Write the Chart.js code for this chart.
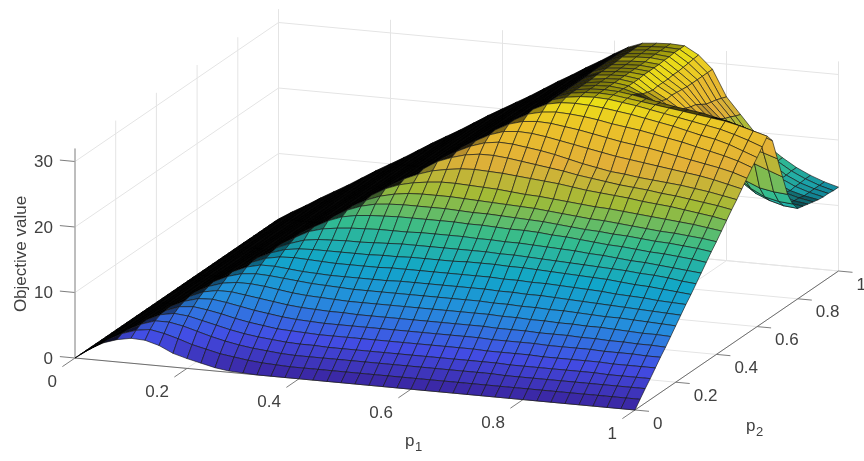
<!DOCTYPE html>
<html>
<head>
<meta charset="utf-8">
<title>Objective value surface</title>
<script src="https://cdn.jsdelivr.net/npm/chart.js@4"></script>
<style>
  html, body { margin: 0; padding: 0; background: #fff; }
  canvas { display: block; }
</style>
</head>
<body>
<canvas id="surfaceChart" width="864" height="461"></canvas>
<script>
// ========================== Data ==========================

const p1Ticks = [0, 0.2, 0.4, 0.6, 0.8, 1];
const p2Ticks = [0, 0.2, 0.4, 0.6, 0.8, 1];
const zTicks = [0, 10, 20, 30];
const zTop = 32;

// mesh positions, the same for both p axes
const gridP = [0, 0.025, 0.05, 0.075, 0.1, 0.125, 0.15, 0.175, 0.2, 0.225,
  0.25, 0.275, 0.3, 0.325, 0.35, 0.375, 0.4, 0.425, 0.45, 0.475,
  0.5, 0.525, 0.55, 0.575, 0.6, 0.625, 0.65, 0.675, 0.7, 0.725,
  0.75, 0.775, 0.8, 0.825, 0.85, 0.875, 0.9, 0.925, 0.95, 0.975, 1];

// the steep left flank is the same in most rows
const riseA = [0, 1.3, 2.5, 3.8, 5, 6.2, 7.5, 8.8, 10, 11.2];
const riseB = [12.5, 13.8, 15, 16.2, 17.5, 18.8, 20, 21.2, 22.4, 23.7];
const riseC = [25, 26.2, 27.5, 28.7, 30];

// objective value, one row per p2 in gridP, one column per p1 in gridP
const objectiveRows = [
  [0, 1.5, 2.7, 3.4, 3.8, 3.7, 3.1, 2.1, 1.5, 1, 0.5, 0.2, 0.1, 0, 0, 0, 0, 0, 0, 0, 0, 0, 0, 0, 0, 0, 0, 0, 0, 0, 0, 0, 0, 0, 0, 0, 0, 0, 0, 0, 0],
  [0, 1.4, 2.7, 3.8, 4.5, 4.8, 4.4, 3.8, 3.1, 2.6, 2.1, 1.8, 1.5, 1.3, 1.2, 1.1, 1.1, 1.1, 1.1, 1.1, 1.1, 1.1, 1.1, 1.1, 1.1, 1.1, 1.1, 1.1, 1.1, 1.1, 1.1, 1.1, 1.1, 1.1, 1.1, 1.1, 1.1, 1.1, 1.1, 1.1, 1.1],
  [0, 1.3, 2.6, 3.8, 4.9, 5.6, 5.6, 5.2, 4.6, 4, 3.5, 3.1, 2.8, 2.6, 2.4, 2.3, 2.3, 2.3, 2.3, 2.3, 2.3, 2.3, 2.3, 2.3, 2.3, 2.3, 2.3, 2.3, 2.3, 2.3, 2.2, 2.2, 2.2, 2.2, 2.2, 2.2, 2.2, 2.2, 2.2, 2.2, 2.2],
  [0, 1.3, 2.5, 3.8, 5, 6, 6.4, 6.2, 5.7, 5.2, 4.7, 4.3, 4, 3.8, 3.6, 3.5, 3.5, 3.4, 3.4, 3.4, 3.4, 3.4, 3.4, 3.4, 3.4, 3.4, 3.4, 3.4, 3.4, 3.4, 3.3, 3.3, 3.3, 3.3, 3.3, 3.3, 3.3, 3.2, 3.2, 3.2, 3.2],
  [0, 1.3, 2.5, 3.8, 5, 6.1, 6.9, 7.1, 6.8, 6.4, 5.9, 5.5, 5.2, 4.9, 4.8, 4.7, 4.6, 4.6, 4.6, 4.6, 4.6, 4.6, 4.6, 4.6, 4.6, 4.6, 4.6, 4.6, 4.5, 4.5, 4.5, 4.5, 4.4, 4.4, 4.4, 4.4, 4.4, 4.3, 4.3, 4.3, 4.3],
  [0, 1.3, 2.5, 3.8, 5, 6.2, 7.2, 7.8, 7.9, 7.6, 7.2, 6.8, 6.5, 6.2, 6, 5.9, 5.8, 5.8, 5.8, 5.8, 5.8, 5.8, 5.8, 5.8, 5.8, 5.8, 5.8, 5.8, 5.7, 5.7, 5.7, 5.7, 5.6, 5.6, 5.6, 5.6, 5.5, 5.5, 5.5, 5.4, 5.4],
  [0, 1.3, 2.5, 3.8, 5, 6.2, 7.4, 8.3, 8.7, 8.7, 8.4, 8.1, 7.8, 7.5, 7.3, 7.2, 7.1, 7.1, 7, 7, 7, 7, 7, 7, 7, 7, 7, 7, 6.9, 6.9, 6.9, 6.8, 6.8, 6.8, 6.7, 6.7, 6.6, 6.6, 6.5, 6.5, 6.4],
  [0, 1.3, 2.5, 3.8, 5, 6.2, 7.5, 8.6, 9.3, 9.6, 9.6, 9.4, 9.1, 8.8, 8.6, 8.5, 8.4, 8.3, 8.3, 8.3, 8.3, 8.3, 8.3, 8.3, 8.3, 8.3, 8.3, 8.3, 8.2, 8.2, 8.1, 8.1, 8, 8, 7.9, 7.9, 7.8, 7.7, 7.6, 7.6, 7.5],
  [0, 1.3, 2.5, 3.8, 5, 6.2, 7.5, 8.8, 9.8, 10.4, 10.6, 10.5, 10.3, 10.1, 9.9, 9.8, 9.7, 9.6, 9.6, 9.6, 9.6, 9.6, 9.6, 9.6, 9.6, 9.6, 9.6, 9.5, 9.5, 9.4, 9.4, 9.3, 9.3, 9.2, 9.1, 9, 9, 8.9, 8.8, 8.7, 8.6],
  [0, 1.3, 2.5, 3.8, 5, 6.2, 7.5, 8.8, 10, 10.9, 11.4, 11.4, 11.2, 11, 10.9, 10.8, 10.8, 10.8, 10.8, 10.8, 10.9, 10.9, 10.9, 10.9, 10.9, 10.9, 10.9, 10.8, 10.8, 10.7, 10.7, 10.6, 10.5, 10.4, 10.3, 10.2, 10.1, 10, 9.9, 9.8, 9.7],
  [0, 1.3, 2.5, 3.8, 5, 6.2, 7.5, 8.8, 10, 11.1, 11.9, 12.3, 12.4, 12.3, 12.2, 12.1, 12.1, 12.1, 12.1, 12.2, 12.2, 12.2, 12.2, 12.2, 12.2, 12.2, 12.2, 12.1, 12.1, 12, 12, 11.9, 11.8, 11.7, 11.6, 11.4, 11.3, 11.2, 11, 10.9, 10.8],
  [...riseA, 12.2, 12.9, 13.2, 13.3, 13.3, 13.3, 13.3, 13.3, 13.4, 13.4, 13.5, 13.5, 13.5, 13.5, 13.6, 13.6, 13.6, 13.5, 13.5, 13.4, 13.3, 13.2, 13.1, 13, 12.9, 12.7, 12.5, 12.4, 12.2, 12, 11.8],
  [...riseA, 12.4, 13.3, 14, 14.3, 14.4, 14.5, 14.5, 14.6, 14.7, 14.8, 14.8, 14.8, 14.8, 14.8, 14.8, 14.8, 14.7, 14.7, 14.6, 14.5, 14.4, 14.3, 14.2, 14.1, 14, 13.9, 13.7, 13.6, 13.4, 13.1, 12.9],
  [...riseA, 12.5, 13.7, 14.8, 15.4, 15.7, 15.9, 16, 16.1, 16.1, 16.1, 16.2, 16.2, 16.2, 16.2, 16.1, 16.1, 16, 16, 15.9, 15.8, 15.7, 15.6, 15.4, 15.3, 15.1, 14.9, 14.8, 14.6, 14.4, 14.2, 14],
  [...riseA, 12.5, 13.8, 15, 16.1, 16.9, 17.3, 17.5, 17.6, 17.7, 17.7, 17.7, 17.7, 17.7, 17.6, 17.6, 17.5, 17.4, 17.4, 17.3, 17.1, 17, 16.8, 16.6, 16.4, 16.3, 16.1, 15.9, 15.8, 15.6, 15.4, 15.1],
  [...riseA, 12.5, 13.8, 15, 16.2, 17.4, 18.2, 18.7, 18.9, 19, 19, 19, 19, 18.9, 18.8, 18.8, 18.7, 18.6, 18.5, 18.4, 18.2, 18, 17.8, 17.7, 17.5, 17.4, 17.2, 17, 16.9, 16.7, 16.5, 16.2],
  [...riseA, 12.5, 13.8, 15, 16.2, 17.5, 18.6, 19.4, 19.9, 20.2, 20.3, 20.3, 20.3, 20.2, 20.1, 20, 19.9, 19.8, 19.7, 19.5, 19.3, 19.1, 18.9, 18.8, 18.6, 18.4, 18.2, 18, 17.9, 17.7, 17.5, 17.2],
  [...riseA, 12.5, 13.8, 15, 16.2, 17.5, 18.8, 20, 20.8, 21.3, 21.6, 21.8, 21.8, 21.7, 21.6, 21.5, 21.3, 21.1, 21, 20.8, 20.6, 20.4, 20.2, 20.1, 19.9, 19.7, 19.5, 19.3, 19.1, 18.9, 18.6, 18.3],
  [...riseA, 12.5, 13.8, 15, 16.2, 17.5, 18.8, 20, 21.2, 22.1, 22.8, 23.2, 23.5, 23.6, 23.5, 23.4, 23.2, 23, 22.8, 22.6, 22.3, 22, 21.8, 21.6, 21.4, 21.1, 20.9, 20.7, 20.4, 20.1, 19.8, 19.4],
  [...riseA, ...riseB, 24.5, 25.1, 25.4, 25.4, 25.2, 24.9, 24.6, 24.3, 24, 23.6, 23.3, 23, 22.7, 22.5, 22.3, 22, 21.8, 21.5, 21.2, 20.9, 20.5],
  [...riseA, ...riseB, 24.9, 25.9, 26.6, 26.9, 26.8, 26.5, 26.2, 25.8, 25.3, 24.8, 24.4, 24, 23.8, 23.5, 23.3, 23.1, 22.9, 22.6, 22.3, 21.9, 21.5],
  [...riseA, ...riseB, 25, 26.2, 27.3, 28, 28.2, 28.1, 27.8, 27.4, 27, 26.6, 26.2, 25.8, 25.5, 25.2, 24.9, 24.6, 24.3, 24, 23.6, 23.1, 22.6],
  [...riseA, ...riseB, 25, 26.2, 27.5, 28.6, 29.2, 29.4, 29.3, 29, 28.7, 28.3, 27.9, 27.5, 27.2, 26.9, 26.5, 26.1, 25.7, 25.3, 24.9, 24.4, 23.7],
  [...riseA, ...riseB, 25, 26.2, 27.5, 28.7, 29.8, 30.3, 30.5, 30.4, 30.2, 29.9, 29.5, 29.2, 28.9, 28.5, 28.1, 27.7, 27.2, 26.7, 26.2, 25.6, 24.8],
  [...riseA, ...riseB, ...riseC, 31, 31.4, 31.5, 31.4, 31.2, 30.9, 30.6, 30.2, 29.8, 29.4, 28.9, 28.4, 28, 27.4, 26.6, 25.8],
  [...riseA, ...riseB, ...riseC, 31.1, 31.7, 32, 32.1, 32, 31.7, 31.4, 31, 30.6, 30.2, 29.8, 29.4, 29, 28.4, 27.7, 26.9],
  [...riseA, ...riseB, ...riseC, 31.1, 31.8, 32.1, 32.2, 32.1, 31.8, 31.5, 31.2, 30.9, 30.6, 30.3, 30, 29.7, 29.2, 28.6, 28],
  [...riseA, ...riseB, ...riseC, 31.1, 31.8, 32.1, 32.2, 32.1, 31.8, 31.4, 31, 30.6, 30.3, 30, 29.5, 29, 28.4, 27.6, 26.8],
  [...riseA, ...riseB, ...riseC, 31.1, 31.8, 32.1, 32.2, 32, 31.4, 30.5, 29.5, 28.5, 27.5, 26.7, 26, 25.4, 24.8, 24.2, 23.5],
  [...riseA, ...riseB, ...riseC, 31.1, 31.8, 32.1, 32.2, 31.9, 30.9, 29.8, 28.3, 26.8, 25.5, 24.4, 23.4, 22.6, 21.8, 21, 20.2],
  [...riseA, ...riseB, ...riseC, 31.1, 31.8, 32.1, 32.2, 31.9, 30.6, 29.5, 28, 26, 24, 22, 20, 18.5, 17.6, 17.2, 17],
  [...riseA, ...riseB, ...riseC, 31.1, 31.9, 32.1, 32.2, 31.9, 30.4, 29.2, 27.8, 25.8, 23.5, 20.5, 18.5, 16.8, 15.7, 15.2, 15],
  [...riseA, ...riseB, ...riseC, 31.1, 31.9, 32.1, 32.2, 32, 30.5, 29.3, 27.5, 26, 23.5, 20, 17, 15.5, 14.6, 14, 13.8],
  [...riseA, ...riseB, ...riseC, 31.2, 31.9, 32.1, 32.2, 32, 30.5, 29.2, 27.2, 25.4, 23, 19.8, 17, 15.4, 14.5, 13.9, 13.6],
  [...riseA, ...riseB, ...riseC, 31.2, 31.9, 32.1, 32.2, 32, 30.5, 29.1, 27, 25, 22.5, 19.5, 16.9, 15.3, 14.4, 13.7, 13.4],
  [...riseA, ...riseB, ...riseC, 31.2, 31.9, 32.1, 32.2, 32, 30.6, 29, 26.5, 24.5, 21.8, 19, 16.7, 15.2, 14.2, 13.6, 13.2],
  [...riseA, ...riseB, ...riseC, 31.2, 32, 32.2, 32.3, 32.1, 30.6, 29, 26, 24, 21, 18.5, 16.5, 15, 14, 13.4, 13],
  [...riseA, ...riseB, ...riseC, 31.2, 32, 32.2, 32.3, 32.1, 30.7, 29, 25.8, 23.5, 20.8, 18.4, 16.5, 15.1, 14.1, 13.4, 12.9],
  [...riseA, ...riseB, ...riseC, 31.2, 32, 32.2, 32.3, 32.2, 30.8, 29, 25.6, 23.2, 20.5, 18.2, 16.5, 15.1, 14.1, 13.4, 12.9],
  [...riseA, ...riseB, ...riseC, 31.2, 32, 32.2, 32.3, 32.2, 30.9, 29, 25.3, 22.8, 20.2, 18.1, 16.5, 15.2, 14.2, 13.4, 12.8],
  [...riseA, ...riseB, ...riseC, 31.2, 32, 32.2, 32.3, 32.2, 31, 29, 25, 22.5, 20, 18, 16.5, 15.2, 14.2, 13.4, 12.8]
];

// ========================== View ==========================

// fixed camera, same orthographic view as the original figure
const VIEW = { x0: 75, y0: 358, p1x: 560, p1y: 52, p2x: 203.5, p2y: -139, zy: -6.55 };
const GRID_COLOR = '#e4e4e4';
const AXIS_COLOR = '#6e6e6e';
const TEXT_COLOR = '#404040';
const FONT = '"Liberation Sans", Arial, sans-serif';
const COLOR_MAX = 33;
const THIN_CELL = 27;  // cells seen nearly edge-on close up into solid black
const DIM_CELL = 110;  // below this on-screen area the mesh lines darken the cell
const BASE_TONE = 0.94;

// parula colormap
const PARULA = [
  [0, 62, 38, 168], [0.125, 71, 82, 244], [0.25, 39, 150, 235], [0.375, 18, 177, 214],
  [0.5, 55, 200, 151], [0.625, 171, 199, 57], [0.75, 240, 186, 60], [0.875, 250, 205, 45], [1, 249, 251, 14]
];

function parula(v, tone) {
  const t = Math.max(0, Math.min(1, v));
  let k = 0;
  while (k < PARULA.length - 2 && t > PARULA[k + 1][0]) k++;
  const a = PARULA[k], b = PARULA[k + 1];
  const f = (t - a[0]) / (b[0] - a[0]);
  const mix = n => Math.round((a[n] + (b[n] - a[n]) * f) * tone);
  return `rgb(${mix(1)},${mix(2)},${mix(3)})`;
}

const project = (p1, p2, z) => ({
  x: VIEW.x0 + VIEW.p1x * p1 + VIEW.p2x * p2,
  y: VIEW.y0 + VIEW.p1y * p1 + VIEW.p2y * p2 + VIEW.zy * z
});

function lineDataset(points, color, width) {
  return {
    data: points.map(p => project(p[0], p[1], p[2])),
    borderColor: color,
    borderWidth: width,
    backgroundColor: 'transparent',
    fill: false
  };
}

// ========================== Datasets ==========================

// Chart.js paints the first dataset last, so the list runs front to back:
// nearest mesh cell first, walls and axes at the very end
function buildDatasets() {
  const cells = [];
  objectiveRows.forEach((row, j) => {
    if (row.length !== gridP.length) throw new Error('row ' + j + ' has ' + row.length + ' values');
  });
  for (let j = 0; j < gridP.length - 1; j++) {
    for (let i = gridP.length - 2; i >= 0; i--) {
      const z = [objectiveRows[j][i], objectiveRows[j][i + 1], objectiveRows[j + 1][i + 1], objectiveRows[j + 1][i]];
      const a = project(gridP[i], gridP[j], z[0]);
      const b = project(gridP[i + 1], gridP[j], z[1]);
      const c = project(gridP[i + 1], gridP[j + 1], z[2]);
      const d = project(gridP[i], gridP[j + 1], z[3]);
      const cross = (b.x - a.x) * (d.y - a.y) - (b.y - a.y) * (d.x - a.x);
      const area = -cross;
      const thin = area > 0 && area < THIN_CELL;
      const dim = area > 0 && area < DIM_CELL ? (DIM_CELL - area) / (DIM_CELL - THIN_CELL) : 0;
      const tone = BASE_TONE * (1 - 0.9 * dim * dim);
      cells.push({
        data: [a, b, c, d, a],
        backgroundColor: thin ? '#000' : parula((z[0] + z[1] + z[2] + z[3]) / 4 / COLOR_MAX, tone),
        borderColor: thin ? '#000' : 'rgba(20,20,20,0.8)',
        borderWidth: 0.8,
        fill: 'shape'
      });
    }
  }

  const axes = [
    lineDataset([[0, 0, 0], [1, 0, 0]], AXIS_COLOR, 1),
    lineDataset([[1, 0, 0], [1, 1, 0]], AXIS_COLOR, 1),
    lineDataset([[0, 0, 0], [0, 0, zTop]], '#a8a8a8', 1.4)
  ];
  p1Ticks.forEach(t => axes.push(lineDataset([[t, 0, 0], [t, -0.062, 0]], AXIS_COLOR, 0.9)));
  p2Ticks.forEach(t => axes.push(lineDataset([[1, t, 0], [1.025, t, 0]], AXIS_COLOR, 0.9)));
  zTicks.forEach(t => axes.push(lineDataset([[0, 0, t], [-0.027, 0, t]], AXIS_COLOR, 0.9)));

  const walls = [];
  p1Ticks.forEach(t => {
    walls.push(lineDataset([[t, 0, 0], [t, 1, 0], [t, 1, zTop]], GRID_COLOR, 1));
  });
  p2Ticks.forEach(t => {
    walls.push(lineDataset([[1, t, 0], [0, t, 0], [0, t, zTop]], GRID_COLOR, 1));
  });
  zTicks.forEach(t => {
    walls.push(lineDataset([[0, 0, t], [0, 1, t], [1, 1, t]], GRID_COLOR, 1));
  });

  return [...cells, ...axes, ...walls];
}

// ========================== Axis text ==========================

const axisText = {
  id: 'axisText',
  afterDraw(chart) {
    const { ctx, scales } = chart;
    const at = (p1, p2, z) => {
      const p = project(p1, p2, z);
      return { x: scales.x.getPixelForValue(p.x), y: scales.y.getPixelForValue(p.y) };
    };
    ctx.save();
    ctx.fillStyle = TEXT_COLOR;
    ctx.font = '17px ' + FONT;
    ctx.textBaseline = 'middle';

    ctx.textAlign = 'right';
    p1Ticks.forEach(t => {
      const p = at(t, 0, 0);
      ctx.fillText(String(t), p.x - 18, p.y + 24);
    });
    zTicks.forEach(t => {
      const p = at(0, 0, t);
      ctx.fillText(String(t), p.x - 22, p.y + 1);
    });

    ctx.textAlign = 'left';
    p2Ticks.forEach(t => {
      const p = at(1, t, 0);
      ctx.fillText(String(t), p.x + 18, p.y + 14);
    });

    // axis titles, subscripts are written separately
    ctx.fillText('p', 405, 441);
    ctx.fillText('p', 746, 426);
    ctx.font = '13px ' + FONT;
    ctx.fillText('1', 415, 447);
    ctx.fillText('2', 756, 432);

    ctx.font = '17px ' + FONT;
    ctx.textAlign = 'center';
    ctx.translate(21, 254);
    ctx.rotate(-Math.PI / 2);
    ctx.fillText('Objective value', 0, 0);
    ctx.restore();
  }
};

// ========================== Chart ==========================

new Chart(document.getElementById('surfaceChart'), {
  type: 'line',
  data: { datasets: buildDatasets() },
  options: {
    responsive: false,
    animation: false,
    events: [],
    layout: { padding: 0 },
    elements: {
      point: { radius: 0 },
      line: { tension: 0, borderJoinStyle: 'round' }
    },
    scales: {
      x: { type: 'linear', display: false, min: 0, max: 864 },
      y: { type: 'linear', display: false, min: 0, max: 461, reverse: true }
    },
    plugins: {
      legend: { display: false },
      tooltip: { enabled: false }
    }
  },
  plugins: [axisText]
});
</script>
</body>
</html>
